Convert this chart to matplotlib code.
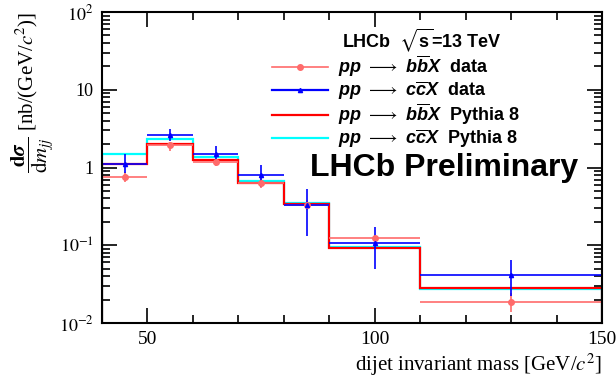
import numpy as np
import matplotlib
matplotlib.use("Agg")
import matplotlib.pyplot as plt
from matplotlib.lines import Line2D
from matplotlib.ticker import FixedLocator, LogLocator, NullFormatter

# bordes de los bins de masa (GeV/c^2)
edges = [40, 50, 60, 70, 80, 90, 110, 150]
centers = [45, 55, 65, 75, 85, 100, 130]
half_width = [5, 5, 5, 5, 5, 10, 20]

# predicciones Pythia 8
bb_pythia = [1.12, 1.98, 1.26, 0.635, 0.335, 0.092, 0.0284]
cc_pythia = [1.48, 2.34, 1.36, 0.67, 0.35, 0.095, 0.0275]

# datos bb
bb_data = [0.766, 1.94, 1.17, 0.635, 0.33, 0.123, 0.0185]
bb_err_lo = [0.12, 0.29, 0.12, 0.095, 0.05, 0.012, 0.0046]
bb_err_hi = [0.12, 0.16, 0.12, 0.105, 0.05, 0.012, 0.0055]

# datos cc
cc_data = [1.10, 2.58, 1.47, 0.79, 0.33, 0.108, 0.042]
cc_err_lo = [0.26, 0.36, 0.30, 0.23, 0.20, 0.059, 0.020]
cc_err_hi = [0.37, 0.57, 0.40, 0.30, 0.20, 0.066, 0.022]

plt.rcParams['mathtext.fontset'] = 'custom'
plt.rcParams['mathtext.rm'] = 'Liberation Sans:bold'
plt.rcParams['mathtext.it'] = 'Liberation Sans:italic:bold'
plt.rcParams['mathtext.bf'] = 'Liberation Sans:bold'
plt.rcParams['mathtext.fallback'] = 'stix'

fig = plt.figure(figsize=(6.16, 3.80), dpi=100)
ax = fig.add_axes([102/616, 1 - 323/380, 500/616, 311/380])

ax.stairs(cc_pythia, edges, baseline=1e-4, color='#00ffff', lw=1.6)
ax.stairs(bb_pythia, edges, baseline=1e-4, color='#ff0000', lw=1.6)

ax.errorbar(centers, bb_data, xerr=half_width, yerr=[bb_err_lo, bb_err_hi],
            fmt='o', ms=4, color='#ff6b6b', lw=1.2, capsize=0)
ax.errorbar(centers, cc_data, xerr=half_width, yerr=[cc_err_lo, cc_err_hi],
            fmt='^', ms=3, color='#0000ff', lw=1.2, capsize=0)

ax.set_xlim(40, 150)
ax.set_yscale('log')
ax.set_ylim(1e-2, 1e2)

serif = 'Liberation Serif'
ax.xaxis.set_major_locator(FixedLocator([50, 100, 150]))
ax.xaxis.set_minor_locator(FixedLocator([40, 60, 70, 80, 90, 110, 120, 130, 140]))
ax.set_xticklabels(['50', '100', '150'], fontfamily=serif, fontsize=14)
ax.yaxis.set_major_locator(FixedLocator([1e-2, 1e-1, 1, 10, 100]))
ax.yaxis.set_minor_locator(LogLocator(base=10, subs=np.arange(2, 10)))
ax.yaxis.set_minor_formatter(NullFormatter())
ax.set_yticklabels([r'$10^{-2}$', r'$10^{-1}$', '1', '10', r'$10^{2}$'],
                   fontfamily=serif, fontsize=13)
for lab in ax.get_yticklabels():
    lab.set_math_fontfamily('stix')

ax.tick_params(which='both', direction='in', top=True, right=True, width=1.2)
ax.tick_params(which='major', length=11, pad=6)
ax.tick_params(which='minor', length=5.5)
for s in ax.spines.values():
    s.set_linewidth(1.5)

ax.set_xlabel(r'dijet invariant mass [GeV/$c^{2}$]', fontfamily=serif,
              fontsize=15, loc='right', math_fontfamily='stix', labelpad=2)
ax.set_ylabel(r'$\dfrac{\mathbf{d}\boldsymbol{\sigma}}{\mathrm{d}m_{jj}}$ [nb/(GeV/$c^{2}$)]',
              fontfamily=serif, fontsize=15, loc='top', math_fontfamily='stix',
              labelpad=2)

handles = [
    Line2D([], [], color='#ff6b6b', lw=1.2, marker='o', ms=4),
    Line2D([], [], color='#0000ff', lw=1.6, marker='^', ms=3),
    Line2D([], [], color='#ff0000', lw=1.6),
    Line2D([], [], color='#00ffff', lw=1.6),
]
labels = [
    r'$pp\ \longrightarrow\ b\overline{b}X$  data',
    r'$pp\ \longrightarrow\ c\overline{c}X$  data',
    r'$pp\ \longrightarrow\ b\overline{b}X$  Pythia 8',
    r'$pp\ \longrightarrow\ c\overline{c}X$  Pythia 8',
]
leg = ax.legend(handles, labels, loc='upper left', frameon=False,
                bbox_to_anchor=(272/616, 1 - 54/380), bbox_transform=fig.transFigure,
                prop={'family': 'Liberation Sans', 'weight': 'bold', 'size': 13},
                handlelength=3.1, handletextpad=0.55, labelspacing=0.0,
                borderpad=0, borderaxespad=0)

fig.text(342/616, 1 - 40/380, r'LHCb  $\sqrt{\mathrm{s}}$=13 TeV', fontfamily='Liberation Sans',
         fontweight='bold', fontsize=13, va='center', ha='left')
fig.text(310/616, 1 - 168/380, 'LHCb Preliminary', fontfamily='Liberation Sans',
         fontweight='bold', fontsize=23, va='center', ha='left')

fig.savefig('out.png', dpi=100)
